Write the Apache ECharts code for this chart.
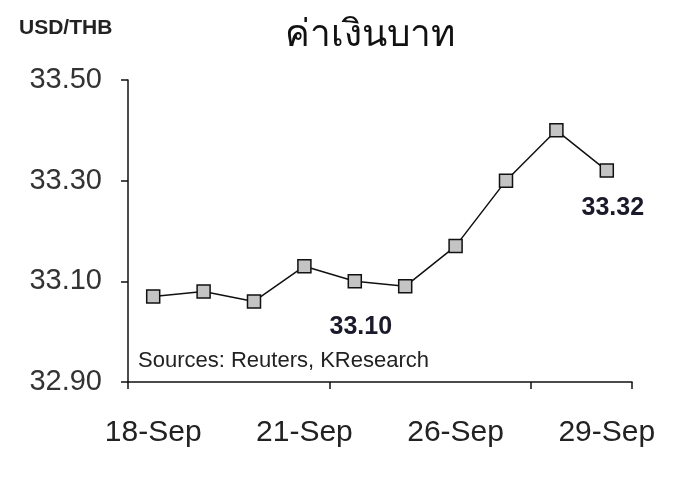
<!DOCTYPE html>
<html><head><meta charset="utf-8">
<script src="https://cdn.jsdelivr.net/npm/echarts@6/dist/echarts.min.js"></script>
<style>html,body{margin:0;padding:0;background:#fff}#c{width:700px;height:504px}</style>
</head><body><div id="c"></div>
<script>
const categories = ['18-Sep','19-Sep','20-Sep','21-Sep','22-Sep','25-Sep','26-Sep','27-Sep','28-Sep','29-Sep'];
const values = [33.07, 33.08, 33.06, 33.13, 33.10, 33.09, 33.17, 33.30, 33.40, 33.32];
const shownLabels = ['18-Sep','21-Sep','26-Sep','29-Sep'];
const labelledPoints = [4, 9];

const chart = echarts.init(document.getElementById('c'));
const font = 'Liberation Sans, Arial, sans-serif';
chart.setOption({
  animation: false,
  backgroundColor: '#fff',
  title: [
    {text: 'ค่าเงินบาท', left: 365, top: 12, textAlign: 'center',
     textStyle: {fontFamily: 'Noto Sans, sans-serif', fontSize: 37, fontWeight: 500, color: '#111'}},
    {text: 'USD/THB', left: 14, top: 13,
     textStyle: {fontFamily: font, fontSize: 21, fontWeight: 'bold', color: '#222'}}
  ],
  graphic: [
    {type: 'text', left: 138, top: 350,
     style: {text: 'Sources: Reuters, KResearch', font: '22px ' + font, fill: '#222'}}
  ],
  grid: {left: 128, right: 68, top: 80, bottom: 122, containLabel: false},
  xAxis: {
    type: 'category', data: categories, boundaryGap: true,
    axisLine: {lineStyle: {color: '#111', width: 1.5}},
    axisTick: {show: true, length: 7, interval: function (i) { return i % 4 === 0; }, lineStyle: {color: '#111', width: 1.5}},
    axisLabel: {
      interval: 0, margin: 36, fontFamily: font, fontSize: 30, color: '#222',
      formatter: function (v) { return shownLabels.indexOf(v) >= 0 ? v : ''; }
    }
  },
  yAxis: {
    type: 'value', min: 32.9, max: 33.5, interval: 0.2,
    axisLine: {show: true, lineStyle: {color: '#111', width: 1.5}},
    axisTick: {show: true, length: 7, lineStyle: {color: '#111', width: 1.5}},
    splitLine: {show: false},
    axisLabel: {margin: 26, fontFamily: font, fontSize: 29, color: '#333',
      formatter: function (v) { return v.toFixed(2); }}
  },
  series: [{
    type: 'line', data: values.map(function (v, i) {
      if (labelledPoints.indexOf(i) >= 0) {
        return {value: v, label: {show: true, position: 'bottom', distance: i === 9 ? 18 : 26, offset: [6, 0],
          formatter: function (p) { return p.value.toFixed(2); },
          fontFamily: font, fontSize: 25, fontWeight: 'bold', color: '#1a1a2a'}};
      }
      return v;
    }),
    symbol: 'rect', symbolSize: 13, showAllSymbol: true,
    lineStyle: {color: '#111', width: 1.5},
    itemStyle: {color: '#c4c4c4', borderColor: '#111', borderWidth: 1.5}
  }]
});
</script></body></html>
